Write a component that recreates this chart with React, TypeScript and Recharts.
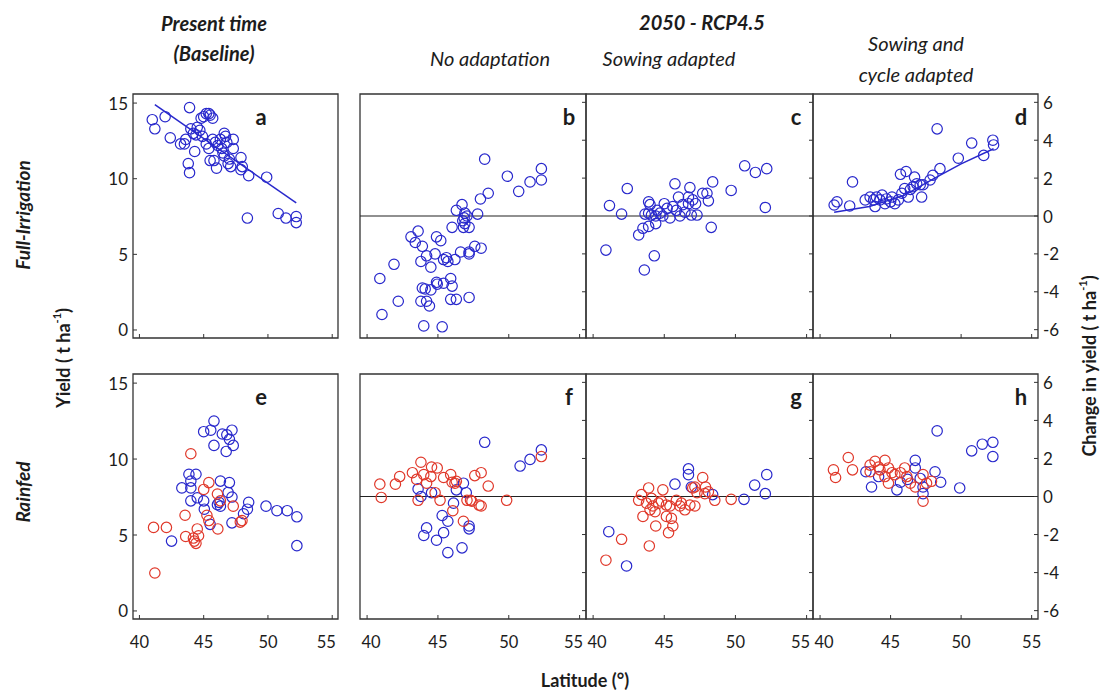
import React from 'react';
import { ScatterChart, Scatter, XAxis, YAxis, ReferenceLine, ReferenceArea } from 'recharts';

const FONT = 'Lato, "Open Sans", sans-serif';
const BLUE = '#2828cc';
const RED = '#e0382a';
const INK = '#1c1c1c';

const latTicks = [40, 45, 50, 55];
const yieldTicks = [0, 5, 10, 15];
const changeTicks = [-6, -4, -2, 0, 2, 4, 6];

const LAT_DOMAIN: [number, number] = [39.5, 55.45];
const YIELD_DOMAIN: [number, number] = [-0.53, 15.6];
const CHANGE_DOMAIN: [number, number] = [-6.44, 6.44];

// [latitude, value]
const aBlue = [
  [41.0, 13.9], [41.2, 13.3], [42.0, 14.1], [42.4, 12.7], [43.2, 12.3], [43.5, 12.3], [43.6, 12.6], [43.9, 14.7],
  [43.8, 11.0], [43.9, 10.4], [44.3, 11.8], [44.0, 13.3], [44.2, 13.0], [44.4, 12.9], [44.5, 13.4], [44.7, 13.2],
  [44.9, 12.8], [44.8, 14.0], [45.0, 14.1], [45.2, 14.3], [45.4, 14.3], [45.5, 14.2], [45.7, 14.0], [45.2, 12.3],
  [45.4, 12.0], [45.5, 11.2], [45.8, 11.2], [45.7, 12.6], [45.9, 12.4], [46.1, 12.2], [46.3, 12.6], [46.4, 12.0],
  [46.5, 11.7], [46.0, 10.7], [46.6, 13.0], [46.7, 12.8], [46.8, 12.4], [46.6, 11.5], [46.9, 11.0], [47.0, 11.3],
  [47.1, 10.8], [47.3, 12.0], [47.3, 12.6], [47.9, 10.6], [47.9, 11.4], [48.0, 10.8], [48.5, 10.2], [48.4, 7.4],
  [49.9, 10.1], [50.8, 7.7], [51.4, 7.4], [52.2, 7.5], [52.2, 7.1],
];
const aFit = [[41.2, 14.9], [52.2, 8.4]];

const bBlue = [
  [48.3, 3.0], [49.9, 2.1], [50.7, 1.3], [51.5, 1.8], [52.3, 2.5], [52.3, 1.9], [48.55, 1.2], [48.0, 0.9],
  [47.8, 0.1], [46.7, 0.6], [46.3, 0.3], [46.9, 0.15], [46.85, -0.1], [47.05, 0.0], [46.75, -0.25], [46.9, -0.4],
  [47.2, -0.6], [46.8, -0.6], [46.0, -0.6], [43.6, -0.8], [43.1, -1.1], [43.4, -1.4], [43.9, -1.6], [44.9, -1.1],
  [45.2, -1.3], [41.9, -2.55], [40.9, -3.3], [42.2, -4.5], [41.05, -5.2], [44.0, -5.8], [45.3, -5.85],
  [43.8, -2.4], [44.2, -2.1], [44.8, -2.0], [44.5, -2.7], [45.4, -2.3], [45.6, -2.2], [45.7, -2.4], [46.2, -2.3],
  [46.6, -1.9], [47.2, -2.0], [47.2, -1.9], [47.6, -1.6], [48.05, -1.7],
  [43.9, -3.8], [44.1, -3.85], [44.5, -3.9], [44.9, -3.5], [44.95, -3.6], [45.4, -3.55], [45.9, -3.3], [46.0, -3.7],
  [45.9, -4.4], [46.3, -4.4], [47.2, -4.3], [43.8, -4.5], [44.2, -4.5], [44.4, -4.75],
];

const cBlue = [
  [40.9, -1.8], [41.15, 0.55], [42.0, 0.1], [42.4, 1.45], [43.6, -2.85], [44.3, -2.1], [43.2, -1.0], [43.5, -0.65],
  [43.9, -0.55], [44.4, -0.4], [43.9, 0.75], [44.0, 0.6], [43.9, 0.15], [44.1, 0.05], [44.5, 0.3], [45.0, 0.65],
  [45.2, 0.4], [45.4, -0.1], [45.6, 0.5], [46.0, 1.0], [45.75, 1.7], [46.1, 0.0], [46.45, 0.2], [46.7, 1.0],
  [46.8, 1.5], [47.0, 0.85], [47.2, 0.65], [47.3, 0.05], [47.7, 1.2], [48.0, 1.2], [48.1, 0.8], [48.4, 1.8],
  [48.3, -0.6], [49.7, 1.35], [50.65, 2.65], [51.4, 2.3], [52.2, 2.5], [52.1, 0.45],
  [43.65, 0.1], [44.7, 0.15], [44.9, 0.0], [45.85, 0.3], [46.3, 0.6], [46.7, 0.65], [46.9, 0.05], [44.4, 0.0],
];

const dBlue = [
  [41.0, 0.58], [41.2, 0.75], [42.1, 0.53], [42.3, 1.8], [43.2, 0.85], [43.55, 1.0], [43.8, 0.85], [43.9, 0.5],
  [44.0, 1.0], [44.25, 0.85], [44.4, 1.1], [44.6, 0.65], [44.7, 0.9], [45.0, 0.75], [45.1, 1.0], [45.3, 0.65],
  [45.55, 0.85], [45.7, 2.2], [45.8, 1.2], [46.0, 1.45], [46.1, 2.35], [46.25, 1.0], [46.4, 1.4], [46.6, 1.55],
  [46.7, 2.05], [46.85, 1.7], [47.1, 1.65], [47.2, 1.0], [47.3, 1.65], [47.8, 1.9], [48.0, 2.15], [48.3, 4.6],
  [48.5, 2.5], [49.8, 3.05], [50.75, 3.85], [51.6, 3.2], [52.25, 4.0], [52.3, 3.75],
];
const dFit = [[41.0, 0.2], [43.5, 0.5], [46.0, 1.1], [48.0, 1.95], [50.0, 2.75], [52.3, 3.55]];

const eBlue = [
  [45.8, 12.5], [45.0, 11.8], [45.55, 11.9], [46.45, 11.65], [46.8, 11.6], [47.2, 11.9], [47.0, 11.3], [47.3, 10.9],
  [45.8, 10.9], [46.75, 10.5], [43.85, 9.0], [44.4, 9.0], [44.0, 8.55], [43.3, 8.1], [44.0, 8.1], [46.3, 8.55],
  [47.0, 8.45], [46.9, 7.8], [44.0, 7.25], [44.5, 7.45], [45.0, 7.25], [47.2, 7.5], [45.05, 6.7], [46.07, 7.0],
  [46.3, 6.9], [46.2, 7.15], [48.5, 7.15], [48.4, 6.7], [48.1, 6.4], [47.2, 5.8], [45.5, 5.7], [42.5, 4.6],
  [49.85, 6.9], [50.7, 6.6], [51.5, 6.6], [52.25, 6.2], [52.25, 4.3],
];
const eRed = [
  [44.0, 10.35], [41.1, 5.5], [42.1, 5.5], [41.2, 2.5], [43.55, 6.3], [43.6, 4.9], [44.27, 4.6], [44.4, 4.45],
  [44.2, 4.8], [44.6, 4.95], [44.5, 5.4], [45.4, 8.45], [45.0, 8.0], [45.25, 6.3], [45.4, 5.95], [46.1, 5.4],
  [46.07, 7.7], [46.3, 7.25], [47.3, 6.9], [47.85, 5.85], [47.98, 5.95],
];

const fBlue = [
  [48.3, 2.85], [50.8, 1.6], [51.5, 1.95], [52.3, 2.45], [46.8, 0.7], [43.6, 0.4], [43.8, 0.0], [44.55, 0.2],
  [46.3, 0.35], [47.0, 0.2], [46.1, -0.35], [45.3, -1.0], [45.7, -1.3], [44.2, -1.65], [44.0, -2.05], [44.9, -2.3],
  [45.4, -1.9], [47.2, -1.55], [47.2, -1.7], [46.7, -2.7], [45.7, -2.95],
];
const fRed = [
  [40.9, 0.65], [41.0, -0.05], [42.0, 0.65], [42.3, 1.05], [43.2, 1.25], [43.8, 1.8], [43.5, 0.9], [44.0, 1.15],
  [44.55, 1.55], [44.95, 1.5], [44.5, 1.05], [44.2, 0.7], [44.8, 0.2], [45.15, -0.2], [43.6, -0.2], [45.4, 1.0],
  [45.9, 1.15], [46.0, 0.75], [46.2, 0.7], [46.3, 0.8], [47.6, 1.1], [48.05, 1.25], [48.55, 0.55], [47.05, -0.2],
  [47.3, -0.2], [47.4, -0.25], [47.9, -0.45], [48.05, -0.5], [46.05, -0.75], [46.8, -1.3], [49.85, -0.2], [52.3, 2.1],
];

const gBlue = [
  [41.1, -1.85], [42.35, -3.65], [45.75, 0.65], [46.7, 1.45], [46.7, 1.15], [46.9, 0.5], [48.4, 0.1], [50.6, -0.15],
  [51.35, 0.6], [52.2, 1.15], [52.1, 0.15],
];
const gRed = [
  [40.9, -3.35], [42.0, -2.25], [43.95, -2.6], [43.2, -0.2], [43.4, 0.1], [43.9, 0.45], [43.75, -0.35], [44.1, -0.1],
  [44.2, -0.5], [43.5, -1.05], [44.0, -0.7], [44.35, -0.8], [44.4, -1.55], [44.9, 0.35], [44.8, -0.25], [45.15, -1.05],
  [45.3, -1.9], [45.4, -0.5], [45.6, -1.55], [45.5, -1.15], [45.85, -0.2], [46.1, -0.5], [46.45, -0.7], [46.8, -0.45],
  [47.15, -0.5], [47.3, 0.2], [47.15, 0.5], [47.7, 1.0], [47.9, 0.5], [48.1, 0.25], [47.85, 0.15], [48.55, -0.2],
  [49.7, -0.15], [44.6, -0.35], [45.15, -0.45], [46.2, -0.35], [47.0, 0.45],
];

const hBlue = [
  [48.3, 3.45], [50.75, 2.4], [51.5, 2.75], [52.25, 2.85], [52.25, 2.1], [49.9, 0.45], [46.75, 1.9], [46.75, 1.5],
  [43.25, 1.3], [43.65, 0.5], [45.45, 0.35], [45.7, 0.75], [46.2, 0.9], [47.1, 0.95], [47.3, 0.5], [47.3, 0.15],
  [48.15, 1.3], [48.55, 0.75], [44.15, 1.05],
];
const hRed = [
  [40.95, 1.4], [41.1, 1.0], [42.0, 2.05], [42.3, 1.4], [43.55, 1.65], [43.9, 1.85], [44.6, 1.9], [44.25, 1.4],
  [44.85, 1.5], [45.1, 1.25], [45.3, 1.15], [44.6, 1.05], [46.0, 1.5], [46.15, 1.05], [46.4, 0.7], [46.75, 0.5],
  [47.55, 0.7], [47.9, 0.8], [47.3, 1.15], [47.3, -0.25], [44.85, 0.7], [44.15, 1.55], [45.7, 1.25], [43.55, 1.3],
];

const toPts = (arr: number[][]) => arr.map(([lat, v]) => ({ lat, v }));

const PADL = 60;
const PADR = 60;
const PADT = 10;
const PADB = 40;

const ring = (color: string) => (p: any) => (
  <circle cx={p.cx} cy={p.cy} r={5.2} fill="none" stroke={color} strokeWidth={1.2} />
);

type PanelProps = {
  left: number;
  top: number;
  width: number;
  height: number;
  side: 'left' | 'right';
  yLabels: boolean;
  xLabels: boolean;
  firstCol?: boolean;
  lastCol?: boolean;
  letter: string;
  blue: number[][];
  red?: number[][];
  fit?: number[][];
};

const Panel = ({ left, top, width, height, side, yLabels, xLabels, firstCol, lastCol, letter, blue, red, fit }: PanelProps) => {
  const isYield = side === 'left';
  const yDomain = isYield ? YIELD_DOMAIN : CHANGE_DOMAIN;
  const yTicks = isYield ? yieldTicks : changeTicks;

  const xTick = (p: any) => {
    const v = p.payload.value;
    // neighbouring panels: nudge the 55 / 40 labels apart like the original
    const shift = v === 55 && !lastCol ? -6 : v === 40 && !firstCol ? 4 : 0;
    return (
      <g>
        <line x1={p.x} x2={p.x} y1={p.y} y2={p.y - 4} stroke="#333" strokeWidth={1} />
        {xLabels && (
          <text x={p.x + shift} y={p.y + 23} textAnchor="middle" dominantBaseline="central" fontSize={16.5} fill={INK} fontFamily={FONT}>
            {v}
          </text>
        )}
      </g>
    );
  };

  const yTick = (p: any) => {
    const dir = isYield ? 1 : -1;
    return (
      <g>
        <line x1={p.x} x2={p.x + dir * 4} y1={p.y} y2={p.y} stroke="#333" strokeWidth={1} />
        {yLabels && (
          <text
            x={p.x - dir * 5}
            y={p.y}
            textAnchor={isYield ? 'end' : 'start'}
            dominantBaseline="central"
            fontSize={17}
            fill={INK}
            fontFamily={FONT}
          >
            {p.payload.value}
          </text>
        )}
      </g>
    );
  };

  return (
    <div style={{ position: 'absolute', left: left - PADL, top: top - PADT }}>
      <ScatterChart
        width={width + PADL + PADR}
        height={height + PADT + PADB}
        margin={isYield ? { top: PADT, right: PADR, bottom: 0, left: 0 } : { top: PADT, right: 0, bottom: 0, left: PADL }}
      >
        <XAxis
          type="number"
          dataKey="lat"
          domain={LAT_DOMAIN}
          ticks={latTicks}
          allowDataOverflow
          interval={0}
          height={PADB}
          axisLine={false}
          tickLine={false}
          tickSize={0}
          tickMargin={0}
          tick={xTick}
        />
        <YAxis
          type="number"
          dataKey="v"
          orientation={side}
          domain={yDomain}
          ticks={yTicks}
          allowDataOverflow
          interval={0}
          width={isYield ? PADL : PADR}
          axisLine={false}
          tickLine={false}
          tickSize={0}
          tickMargin={0}
          tick={yTick}
        />
        {!isYield && <ReferenceLine y={0} stroke="#222" strokeWidth={1.2} />}
        <Scatter data={toPts(blue)} shape={ring(BLUE)} isAnimationActive={false} />
        {red && <Scatter data={toPts(red)} shape={ring(RED)} isAnimationActive={false} />}
        {fit && (
          <Scatter
            data={toPts(fit)}
            line={{ stroke: BLUE, strokeWidth: 1.5 }}
            shape={() => <g />}
            isAnimationActive={false}
          />
        )}
        <ReferenceArea
          x1={LAT_DOMAIN[0]}
          x2={LAT_DOMAIN[1]}
          y1={yDomain[0]}
          y2={yDomain[1]}
          fill="none"
          stroke="#333"
          strokeWidth={1.3}
          ifOverflow="visible"
        />
        <text x={(isYield ? 0 : PADL) + width - 17} y={PADT + 22} textAnchor="middle" dominantBaseline="central" fontSize={22} fontWeight={700} fill={INK} fontFamily={FONT}>
          {letter}
        </text>
      </ScatterChart>
    </div>
  );
};

const COLS = [
  { left: 133, width: 205 },
  { left: 360, width: 226 },
  { left: 586, width: 227 },
  { left: 813, width: 225 },
];
const ROWS = [
  { top: 94, height: 244 },
  { top: 374, height: 245 },
];

const Labels = () => (
  <svg width={1105} height={694} style={{ position: 'absolute', left: 0, top: 0, pointerEvents: 'none' }}>
    <g fontFamily={FONT} fill={INK}>
      <text x={214} y={23} textAnchor="middle" dominantBaseline="central" fontSize={20} fontWeight={700} fontStyle="italic">Present time</text>
      <text x={214} y={53} textAnchor="middle" dominantBaseline="central" fontSize={20} fontWeight={700} fontStyle="italic">(Baseline)</text>
      <text x={702} y={22} textAnchor="middle" dominantBaseline="central" fontSize={20} fontWeight={700} fontStyle="italic">2050 - RCP4.5</text>
      <text x={490} y={58} textAnchor="middle" dominantBaseline="central" fontSize={20} fontStyle="italic">No adaptation</text>
      <text x={669} y={58} textAnchor="middle" dominantBaseline="central" fontSize={20} fontStyle="italic">Sowing adapted</text>
      <text x={916} y={43} textAnchor="middle" dominantBaseline="central" fontSize={20} fontStyle="italic">Sowing and</text>
      <text x={916} y={74} textAnchor="middle" dominantBaseline="central" fontSize={20} fontStyle="italic">cycle adapted</text>

      <text transform="translate(22,215) rotate(-90)" textAnchor="middle" dominantBaseline="central" fontSize={19} fontWeight={700} fontStyle="italic">Full-Irrigation</text>
      <text transform="translate(22,492) rotate(-90)" textAnchor="middle" dominantBaseline="central" fontSize={19} fontWeight={700} fontStyle="italic">Rainfed</text>
      <text transform="translate(63,358) rotate(-90)" textAnchor="middle" dominantBaseline="central" fontSize={18} fontWeight={700}>
        Yield ( t ha<tspan baselineShift="super" fontSize={11}>-1</tspan>)
      </text>
      <text transform="translate(1089,366) rotate(-90)" textAnchor="middle" dominantBaseline="central" fontSize={18} fontWeight={700}>
        Change in yield ( t ha<tspan baselineShift="super" fontSize={11}>-1</tspan>)
      </text>
      <text x={585} y={680} textAnchor="middle" dominantBaseline="central" fontSize={18} fontWeight={700}>Latitude (°)</text>
    </g>
  </svg>
);

export default function App() {
  return (
    <div style={{ position: 'absolute', left: 0, top: 0, width: 1105, height: 694, background: '#fff', fontFamily: FONT }}>
      <Panel {...COLS[0]} {...ROWS[0]} side="left" yLabels xLabels={false} firstCol letter="a" blue={aBlue} fit={aFit} />
      <Panel {...COLS[1]} {...ROWS[0]} side="right" yLabels={false} xLabels={false} letter="b" blue={bBlue} />
      <Panel {...COLS[2]} {...ROWS[0]} side="right" yLabels={false} xLabels={false} letter="c" blue={cBlue} />
      <Panel {...COLS[3]} {...ROWS[0]} side="right" yLabels xLabels={false} lastCol letter="d" blue={dBlue} fit={dFit} />
      <Panel {...COLS[0]} {...ROWS[1]} side="left" yLabels xLabels firstCol letter="e" blue={eBlue} red={eRed} />
      <Panel {...COLS[1]} {...ROWS[1]} side="right" yLabels={false} xLabels letter="f" blue={fBlue} red={fRed} />
      <Panel {...COLS[2]} {...ROWS[1]} side="right" yLabels={false} xLabels letter="g" blue={gBlue} red={gRed} />
      <Panel {...COLS[3]} {...ROWS[1]} side="right" yLabels xLabels lastCol letter="h" blue={hBlue} red={hRed} />
      <Labels />
    </div>
  );
}
